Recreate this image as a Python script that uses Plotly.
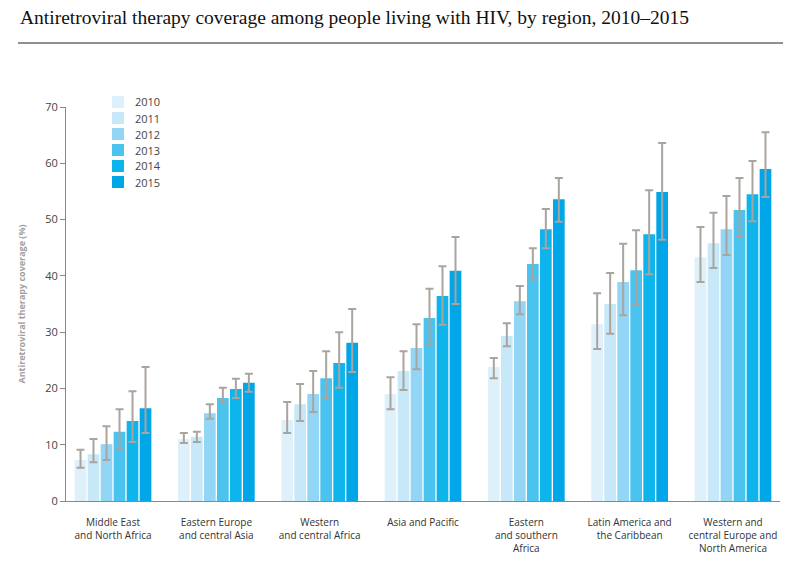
import plotly.graph_objects as go

regions = ["Middle East<br>and North Africa", "Eastern Europe<br>and central Asia",
           "Western<br>and central Africa", "Asia and Pacific",
           "Eastern<br>and southern<br>Africa", "Latin America and<br>the Caribbean",
           "Western and<br>central Europe and<br>North America"]
years = ["2010", "2011", "2012", "2013", "2014", "2015"]

v2010 = [7.3, 11.0, 14.4, 19.0, 23.8, 31.4, 43.3]
v2011 = [8.3, 11.4, 17.2, 23.1, 29.3, 35.0, 45.8]
v2012 = [10.1, 15.6, 19.0, 27.2, 35.5, 38.9, 48.3]
v2013 = [12.3, 18.3, 21.8, 32.5, 42.1, 41.0, 51.7]
v2014 = [14.2, 19.9, 24.5, 36.4, 48.3, 47.4, 54.5]
v2015 = [16.5, 21.0, 28.1, 40.9, 53.6, 54.9, 59.0]

hi2010 = [9.1, 12.1, 17.6, 22.0, 25.4, 36.9, 48.7]
hi2011 = [11.0, 12.3, 20.8, 26.6, 31.6, 40.5, 51.2]
hi2012 = [13.3, 17.2, 23.1, 31.4, 38.2, 45.7, 54.2]
hi2013 = [16.3, 20.1, 26.6, 37.7, 44.9, 48.1, 57.4]
hi2014 = [19.5, 21.7, 30.0, 41.7, 51.9, 55.2, 60.4]
hi2015 = [23.8, 22.6, 34.1, 46.9, 57.4, 63.6, 65.5]

lo2010 = [5.9, 10.3, 12.1, 16.3, 21.8, 27.0, 38.9]
lo2011 = [6.9, 10.5, 14.2, 19.7, 27.5, 29.7, 41.4]
lo2012 = [7.3, 14.6, 15.8, 23.4, 33.2, 33.0, 43.7]
lo2013 = [9.2, 17.4, 18.1, 27.7, 39.4, 35.0, 46.9]
lo2014 = [10.5, 18.3, 20.1, 31.3, 44.9, 40.3, 49.7]
lo2015 = [12.1, 19.4, 22.9, 35.0, 49.6, 46.4, 54.0]

colors = ["#def1fb", "#c7e8f9", "#93d5f5", "#4ac3ef", "#0db5ec", "#00a6e8"]

values = [v2010, v2011, v2012, v2013, v2014, v2015]
highs = [hi2010, hi2011, hi2012, hi2013, hi2014, hi2015]
lows = [lo2010, lo2011, lo2012, lo2013, lo2014, lo2015]

xpos = list(range(len(regions)))

L, R, T, B = 66, 22, 107, 61
W, H = 802, 562
PW, PH = W - L - R, H - T - B

fig = go.Figure()
for yr, vals, hi, lo, col in zip(years, values, highs, lows, colors):
    fig.add_trace(go.Bar(
        x=xpos, y=vals, name=yr, showlegend=False,
        marker=dict(color=col, line=dict(width=0)),
        error_y=dict(type="data", symmetric=False,
                     array=[h - v for h, v in zip(hi, vals)],
                     arrayminus=[v - l for v, l in zip(vals, lo)],
                     color="#aaa49f", thickness=2, width=4),
    ))

fig.update_layout(
    width=W, height=H,
    margin=dict(l=L, r=R, t=T, b=B),
    paper_bgcolor="white", plot_bgcolor="white",
    barmode="group", bargap=0.245, bargroupgap=0.1,
    font=dict(family="Open Sans, Liberation Sans, sans-serif", color="#444"),
    showlegend=False,
    xaxis=dict(range=[-0.455, 6.455], tickvals=xpos, ticktext=regions,
               showline=True, linecolor="#888", linewidth=1, ticks="",
               showgrid=False, zeroline=False, ticklabelstandoff=12,
               automargin=False, tickfont=dict(size=10, color="#333")),
    yaxis=dict(range=[0, 70], dtick=10, showline=True, linecolor="#888", linewidth=1,
               ticks="outside", ticklen=5, tickcolor="#888", showgrid=False,
               zeroline=False, automargin=False, tickfont=dict(size=11, color="#444"),
               title=dict(text="<b>Antiretroviral therapy coverage (%)</b>",
                          font=dict(size=9, color="#a0a0a0"), standoff=18)),
)

# manual legend (16px spacing as in reference)
for i, (yr, col) in enumerate(zip(years, colors)):
    cy = 102 + 16 * i
    fig.add_shape(type="rect", xref="paper", yref="paper",
                  x0=(112 - L) / PW, x1=(124 - L) / PW,
                  y0=1 + (T - (cy + 6)) / PH, y1=1 + (T - (cy - 6)) / PH,
                  line=dict(width=0), fillcolor=col)
    fig.add_annotation(text=yr, xref="paper", yref="paper",
                       x=(133 - L) / PW, y=1 + (T - cy) / PH,
                       xanchor="left", yanchor="middle", showarrow=False,
                       font=dict(size=11, color="#444"))

fig.add_annotation(text="Antiretroviral therapy coverage among people living with HIV, by region, 2010\u20132015",
                   xref="paper", yref="paper", x=(18 - L) / PW, y=1 + (T - 18) / PH,
                   xanchor="left", yanchor="middle", showarrow=False,
                   font=dict(family="Liberation Serif, DejaVu Serif, serif", size=19.5, color="#111"))
fig.add_shape(type="line", xref="paper", yref="paper",
              x0=(18 - L) / PW, x1=(783 - L) / PW,
              y0=1 + (T - 43) / PH, y1=1 + (T - 43) / PH,
              line=dict(color="#222", width=1))

fig.write_html("out.html")
